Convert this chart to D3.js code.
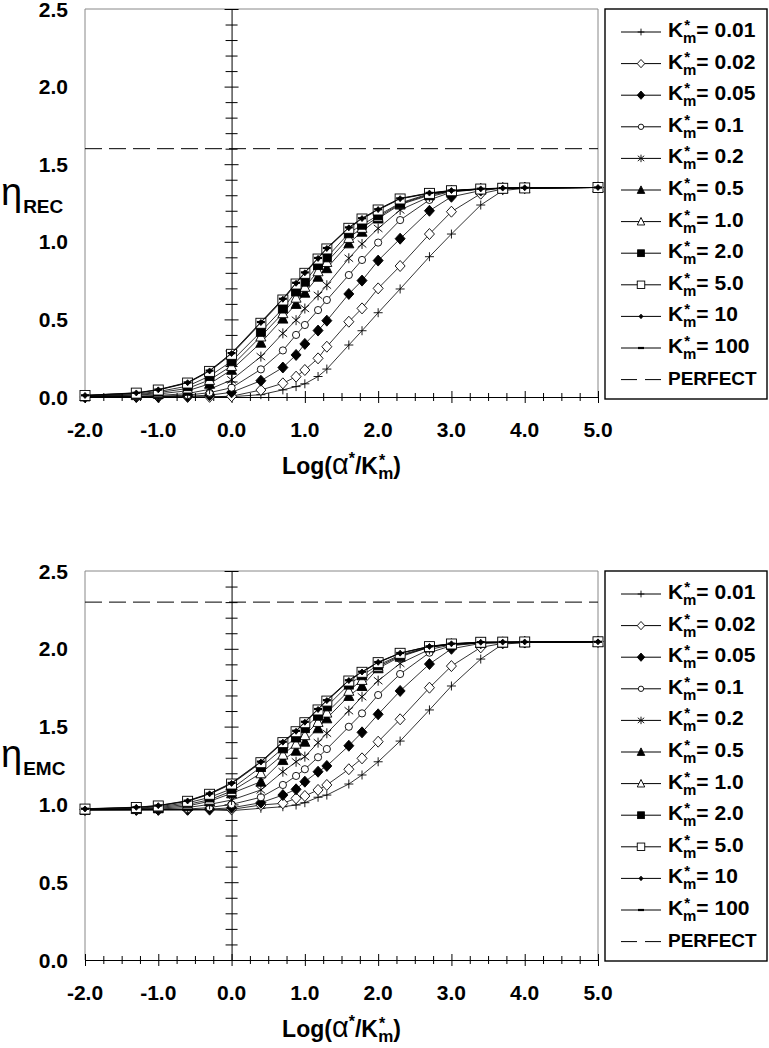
<!DOCTYPE html>
<html><head><meta charset="utf-8">
<script src="https://cdn.jsdelivr.net/npm/d3@7"></script>
<style>body{margin:0;background:#fff}</style>
</head><body><svg id="c" width="769" height="1048"></svg>
<script>
// ---- data ----
const xValues = [-2, -1.3, -1, -0.6, -0.3, 0, 0.4, 0.7, 0.88, 1, 1.18, 1.3, 1.6, 1.78, 2, 2.3, 2.7, 3, 3.4, 3.7, 4, 5];
const seriesLabels = ["0.01", "0.02", "0.05", "0.1", "0.2", "0.5", "1.0", "2.0", "5.0", "10", "100"];
const markerTypes = ["plus", "diamondOpen", "diamondFilled", "circleOpen", "asterisk", "triangleFilled", "triangleOpen", "squareFilled", "squareOpen", "dot", "dash"];
const recValues = [
  [0, 0, 0, 0, 0, 0.002, 0.015, 0.046, 0.067, 0.085, 0.132, 0.18, 0.335, 0.427, 0.543, 0.696, 0.904, 1.05, 1.237, 1.33, 1.345, 1.35],
  [0, 0, 0, 0, 0.001, 0.005, 0.045, 0.088, 0.131, 0.174, 0.249, 0.324, 0.485, 0.571, 0.70, 0.844, 1.05, 1.194, 1.31, 1.34, 1.347, 1.35],
  [0, 0.001, 0.002, 0.005, 0.012, 0.03, 0.105, 0.19, 0.271, 0.342, 0.428, 0.492, 0.664, 0.75, 0.879, 1.02, 1.20, 1.29, 1.33, 1.345, 1.347, 1.35],
  [0.001, 0.003, 0.005, 0.012, 0.028, 0.06, 0.178, 0.30, 0.40, 0.464, 0.56, 0.625, 0.786, 0.883, 0.995, 1.14, 1.27, 1.32, 1.34, 1.345, 1.347, 1.35],
  [0.002, 0.006, 0.01, 0.022, 0.05, 0.11, 0.26, 0.41, 0.495, 0.57, 0.655, 0.72, 0.894, 0.986, 1.086, 1.205, 1.29, 1.325, 1.34, 1.345, 1.347, 1.35],
  [0.004, 0.012, 0.02, 0.04, 0.085, 0.175, 0.35, 0.505, 0.60, 0.672, 0.775, 0.83, 0.99, 1.065, 1.15, 1.24, 1.30, 1.327, 1.34, 1.345, 1.347, 1.35],
  [0.006, 0.015, 0.028, 0.055, 0.11, 0.20, 0.39, 0.54, 0.64, 0.71, 0.81, 0.87, 1.025, 1.09, 1.16, 1.245, 1.305, 1.328, 1.34, 1.345, 1.347, 1.35],
  [0.008, 0.02, 0.035, 0.07, 0.135, 0.23, 0.42, 0.57, 0.68, 0.743, 0.85, 0.90, 1.055, 1.11, 1.17, 1.25, 1.31, 1.329, 1.34, 1.345, 1.347, 1.35],
  [0.01, 0.025, 0.045, 0.09, 0.165, 0.275, 0.475, 0.625, 0.728, 0.797, 0.889, 0.954, 1.087, 1.147, 1.205, 1.276, 1.312, 1.329, 1.34, 1.345, 1.347, 1.35],
  [0.01, 0.026, 0.046, 0.092, 0.168, 0.28, 0.48, 0.63, 0.733, 0.80, 0.893, 0.957, 1.09, 1.15, 1.208, 1.278, 1.314, 1.33, 1.341, 1.346, 1.348, 1.35],
  [0.011, 0.027, 0.048, 0.094, 0.17, 0.283, 0.483, 0.633, 0.736, 0.803, 0.896, 0.96, 1.093, 1.152, 1.21, 1.28, 1.315, 1.331, 1.342, 1.346, 1.348, 1.35]
];
const emcValues = [
  [0.965, 0.965, 0.965, 0.965, 0.965, 0.96, 0.975, 0.985, 0.996, 1.011, 1.046, 1.06, 1.131, 1.189, 1.274, 1.407, 1.607, 1.761, 1.934, 2.03, 2.04, 2.045],
  [0.965, 0.965, 0.965, 0.965, 0.966, 0.968, 0.996, 1.007, 1.039, 1.054, 1.093, 1.125, 1.226, 1.296, 1.403, 1.547, 1.75, 1.889, 2.009, 2.035, 2.04, 2.045],
  [0.965, 0.965, 0.966, 0.967, 0.97, 0.978, 1.011, 1.06, 1.097, 1.146, 1.21, 1.247, 1.377, 1.463, 1.579, 1.729, 1.902, 2.0, 2.035, 2.04, 2.042, 2.045],
  [0.965, 0.966, 0.967, 0.97, 0.98, 1.0, 1.046, 1.125, 1.183, 1.226, 1.303, 1.356, 1.499, 1.585, 1.703, 1.838, 1.975, 2.02, 2.038, 2.04, 2.042, 2.045],
  [0.965, 0.967, 0.97, 0.98, 1.0, 1.028, 1.093, 1.21, 1.274, 1.307, 1.397, 1.457, 1.602, 1.692, 1.795, 1.906, 1.996, 2.025, 2.038, 2.04, 2.042, 2.045],
  [0.966, 0.97, 0.975, 0.99, 1.02, 1.071, 1.146, 1.285, 1.345, 1.403, 1.489, 1.553, 1.697, 1.761, 1.875, 1.949, 2.01, 2.028, 2.039, 2.041, 2.043, 2.045],
  [0.967, 0.972, 0.98, 1.0, 1.03, 1.085, 1.2, 1.32, 1.39, 1.445, 1.53, 1.59, 1.73, 1.80, 1.885, 1.955, 2.01, 2.03, 2.04, 2.041, 2.043, 2.045],
  [0.968, 0.975, 0.985, 1.01, 1.045, 1.1, 1.24, 1.36, 1.43, 1.49, 1.57, 1.63, 1.77, 1.83, 1.895, 1.96, 2.012, 2.03, 2.04, 2.042, 2.043, 2.045],
  [0.97, 0.98, 0.99, 1.02, 1.065, 1.131, 1.268, 1.397, 1.467, 1.525, 1.607, 1.664, 1.793, 1.849, 1.911, 1.971, 2.014, 2.031, 2.042, 2.043, 2.044, 2.045],
  [0.971, 0.981, 0.992, 1.022, 1.068, 1.135, 1.272, 1.4, 1.47, 1.528, 1.61, 1.667, 1.796, 1.851, 1.913, 1.972, 2.015, 2.032, 2.042, 2.043, 2.044, 2.045],
  [0.972, 0.982, 0.993, 1.024, 1.07, 1.138, 1.275, 1.403, 1.473, 1.531, 1.613, 1.67, 1.798, 1.853, 1.915, 1.973, 2.016, 2.033, 2.043, 2.044, 2.044, 2.045]
];
const yTickValues = [0, 0.5, 1.0, 1.5, 2.0, 2.5];
const xTickValues = [-2, -1, 0, 1, 2, 3, 4, 5];
const perfectRec = 1.6;
const perfectEmc = 2.3;
const yLabelSubs = ["REC", "EMC"];

// ---- drawing ----
const svg = d3.select("#c");
const FONT = "'Liberation Sans', Arial, sans-serif";
const x = d3.scaleLinear().domain([-2, 5]).range([85, 598]);

function drawMarker(g, type, cx, cy, s) {
  const m = g.append("g").attr("transform", `translate(${cx},${cy}) scale(${s})`);
  const sw = 0.9 / s;
  const app = (tag) => m.append(tag).attr("stroke", "#000").attr("stroke-width", sw);
  switch (type) {
    case "plus": app("path").attr("d", "M-4.5,0H4.5M0,-4.5V4.5").attr("fill", "none"); break;
    case "diamondOpen": app("path").attr("d", "M0,-5.5L5,0L0,5.5L-5,0Z").attr("fill", "#fff"); break;
    case "diamondFilled": app("path").attr("d", "M0,-5.5L5,0L0,5.5L-5,0Z").attr("fill", "#000"); break;
    case "circleOpen": app("circle").attr("r", 3.6).attr("fill", "#fff"); break;
    case "asterisk": app("path").attr("d", "M0,-5V5M-4.3,-3.5L4.3,3.5M-4.3,3.5L4.3,-3.5").attr("fill", "none"); break;
    case "triangleFilled": app("path").attr("d", "M0,-5.5L5,4.5L-5,4.5Z").attr("fill", "#000"); break;
    case "triangleOpen": app("path").attr("d", "M0,-5.5L5,4.5L-5,4.5Z").attr("fill", "#fff"); break;
    case "squareFilled": app("rect").attr("x", -4.5).attr("y", -4.5).attr("width", 9).attr("height", 9).attr("fill", "#000"); break;
    case "squareOpen": app("rect").attr("x", -5).attr("y", -5).attr("width", 10).attr("height", 10).attr("fill", "#fff"); break;
    case "dot": app("path").attr("d", "M0,-3L2.6,0L0,3L-2.6,0Z").attr("fill", "#000"); break;
    case "dash": app("path").attr("d", "M-4,0H4").attr("stroke-width", 2.2 / s).attr("fill", "none"); break;
  }
}

// single <text> made of tspans (relative dx/dy)
function richText(g, pieces, x0, y0, anchor) {
  const t = g.append("text").attr("x", x0).attr("y", y0).attr("text-anchor", anchor)
    .attr("font-family", FONT).attr("fill", "#000");
  pieces.forEach(p => {
    t.append("tspan").attr("font-size", p.size).attr("font-weight", p.weight || "bold")
      .attr("dx", p.dx || 0).attr("dy", p.dy || 0).text(p.t);
  });
  return t;
}

function drawChart(top, bottom, values, perfect, sub) {
  const y = d3.scaleLinear().domain([0, 2.5]).range([bottom, top]);
  const g = svg.append("g");

  g.append("path").attr("d", `M${x(-2)},${bottom}V${top}H${x(5)}V${bottom}`)
    .attr("fill", "none").attr("stroke", "#888").attr("stroke-width", 1);

  const minorX = d3.range(-2, 5.001, 0.25);
  const xa = g.append("g").attr("transform", `translate(0,${y(0)})`)
    .call(d3.axisBottom(x).tickValues(minorX).tickFormat("").tickSizeOuter(0));
  xa.select(".domain").attr("stroke", "#000");
  xa.selectAll(".tick line").attr("stroke", "#000")
    .attr("y1", d => Math.abs(d - Math.round(d)) < 1e-6 ? -6 : -4)
    .attr("y2", d => Math.abs(d - Math.round(d)) < 1e-6 ? 6 : 4);

  const minorY = d3.range(0, 2.5001, 0.1);
  const ya = g.append("g").attr("transform", `translate(${x(0)},0)`)
    .call(d3.axisLeft(y).tickValues(minorY).tickFormat("").tickSizeOuter(0));
  ya.select(".domain").attr("stroke", "#000");
  ya.selectAll(".tick line").attr("stroke", "#000")
    .attr("x1", d => Math.abs(d * 2 - Math.round(d * 2)) < 1e-6 ? -7 : -6)
    .attr("x2", d => Math.abs(d * 2 - Math.round(d * 2)) < 1e-6 ? 7 : 6);

  g.selectAll(".ylab").data(yTickValues).enter().append("text")
    .attr("x", 68).attr("y", d => y(d) + 7.5).attr("text-anchor", "end")
    .attr("font-family", FONT).attr("font-size", 21).attr("font-weight", "bold")
    .text(d => d.toFixed(1));
  g.selectAll(".xlab").data(xTickValues).enter().append("text")
    .attr("x", d => x(d)).attr("y", y(0) + 40).attr("text-anchor", "middle")
    .attr("font-family", FONT).attr("font-size", 21).attr("font-weight", "bold")
    .text(d => d.toFixed(1));

  g.append("line").attr("x1", x(-2)).attr("x2", x(5)).attr("y1", y(perfect)).attr("y2", y(perfect))
    .attr("stroke", "#000").attr("stroke-width", 1).attr("stroke-dasharray", "17,7");

  const line = d3.line().x(d => x(d[0])).y(d => y(d[1]));
  values.forEach((vals, i) => {
    const pts = xValues.map((xv, j) => [xv, vals[j]]);
    const sg = g.append("g");
    sg.append("path").attr("d", line(pts)).attr("fill", "none").attr("stroke", "#000").attr("stroke-width", 0.8);
    pts.forEach(p => drawMarker(sg, markerTypes[i], x(p[0]), y(p[1]), 1));
  });

  // y label
  richText(g, [
    {t: "η", size: 38, weight: "normal"},
    {t: sub, size: 19, dy: 8, dx: 1}
  ], 1, y(1.24), "start");

  // x title
  richText(g, [
    {t: "Log(", size: 23},
    {t: "α", size: 29, weight: "normal"},
    {t: "*", size: 16, dy: -10},
    {t: "/K", size: 23, dy: 10},
    {t: "*", size: 16, dy: -8, dx: 1},
    {t: "m", size: 17, dx: -7, dy: 13},
    {t: ")", size: 23, dy: -5}
  ], (x(-2) + x(5)) / 2, y(0) + 77, "middle");

  // legend
  const lt = top, lb = top + 390;
  g.append("rect").attr("x", 605).attr("y", lt).attr("width", 162).attr("height", lb - lt)
    .attr("fill", "#fff").attr("stroke", "#000").attr("stroke-width", 1.4);
  const step = 31.6;
  seriesLabels.forEach((lab, i) => {
    const by = lt + 28 + i * step;
    const ly = by - 5;
    g.append("line").attr("x1", 621).attr("x2", 661).attr("y1", ly).attr("y2", ly).attr("stroke", "#000").attr("stroke-width", 1);
    drawMarker(g, markerTypes[i], 641, ly, 0.75);
    richText(g, [
      {t: "K", size: 21},
      {t: "*", size: 15, dy: -7, dx: 1},
      {t: "m", size: 15, dx: -7, dy: 13},
      {t: "= " + lab, size: 21, dy: -6}
    ], 668, by, "start");
  });
  const py = lt + 28 + 11 * step;
  g.append("line").attr("x1", 621).attr("x2", 661).attr("y1", py - 5).attr("y2", py - 5)
    .attr("stroke", "#000").attr("stroke-width", 1).attr("stroke-dasharray", "16,8");
  g.append("text").attr("x", 668).attr("y", py).attr("font-family", FONT).attr("font-size", 19)
    .attr("font-weight", "bold").text("PERFECT");
}

drawChart(9, 397, recValues, perfectRec, yLabelSubs[0]);
drawChart(571, 960, emcValues, perfectEmc, yLabelSubs[1]);
</script></body></html>
